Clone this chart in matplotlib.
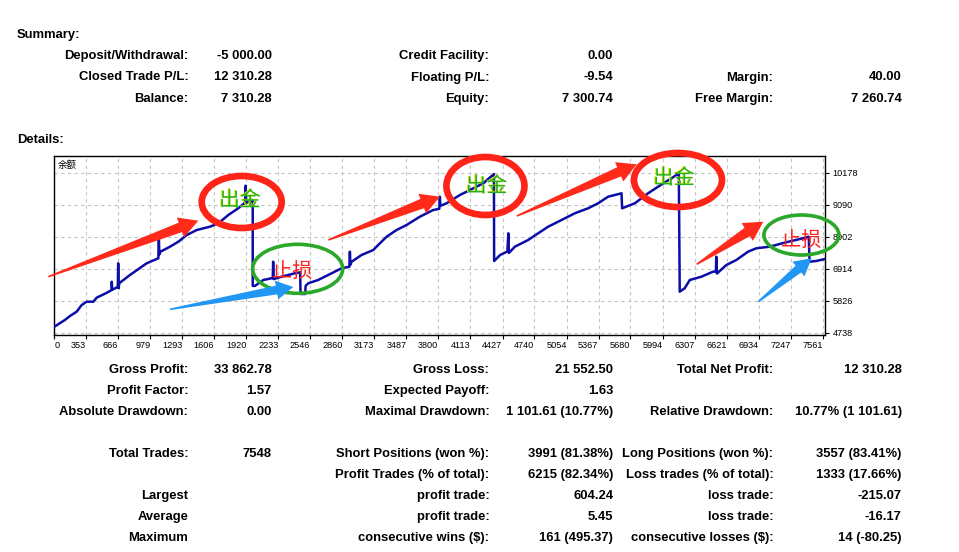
import numpy as np
import matplotlib
matplotlib.use('Agg')
import matplotlib.pyplot as plt
import matplotlib.patheffects as pe
from matplotlib.patches import Ellipse, Polygon
from matplotlib.transforms import IdentityTransform

W, H = 959, 552

# balance curve (trade number, balance)
trade_no = [40, 143, 193, 258, 308, 356, 421, 454, 556,
            601, 602, 606, 636, 661, 665, 670, 675, 780, 943,
            1058, 1063, 1068, 1078, 1172, 1254, 1336, 1434, 1563, 1645,
            1743, 1840, 1899, 1909, 1913, 1918, 1973, 1982, 1982, 2004,
            2085, 2128, 2178, 2182, 2187, 2264, 2395, 2446, 2450, 2495,
            2500, 2525, 2622, 2754, 2852, 2928, 2933, 2938, 2950, 3047,
            3162, 3210, 3293, 3390, 3488, 3618, 3749, 3808, 3814, 3818,
            3880, 4010, 4108, 4239, 4343, 4345, 4404, 4475, 4484, 4490,
            4548, 4678, 4776, 4874, 5005, 5135, 5265, 5363, 5461, 5592,
            5598, 5722, 5852, 5950, 6080, 6153, 6162, 6210, 6260, 6374,
            6487, 6516, 6520, 6526, 6618, 6716, 6830, 6911, 7041, 7204,
            7367, 7425, 7433, 7498, 7584]
balance = [4942, 5170, 5306, 5452, 5680, 5792, 5792, 5928, 6100,
           6190, 6472, 6200, 6250, 6300, 7097, 6250, 6420, 6700, 7097,
           7268, 7948, 7400, 7492, 7662, 7832, 8060, 8230, 8342, 8458,
           8740, 8968, 9138, 9200, 9736, 9150, 9250, 9250, 6330, 6330,
           6530, 6560, 6600, 7152, 6560, 6642, 6758, 6790, 6054, 6054,
           6330, 6418, 6530, 6758, 6928, 6980, 7492, 7050, 7152, 7380,
           7550, 7720, 8002, 8230, 8400, 8682, 8910, 8950, 9362, 9050,
           9138, 9420, 9590, 9818, 10134, 7176, 7380, 7500, 8118, 7450,
           7662, 7890, 8118, 8342, 8570, 8798, 8968, 9138, 9362, 9478,
           8968, 9138, 9478, 9702, 9988, 10150, 6132, 6248, 6530, 6642,
           6812, 6820, 7322, 6750, 7040, 7210, 7492, 7608, 7662, 7812,
           7948, 8002, 7152, 7176, 7244]

x_min, x_max = 39.5, 7584
y_min, y_max = 4660, 10746
xtick_vals = [0, 353, 666, 979, 1293, 1606, 1920, 2233, 2546, 2860, 3173,
              3487, 3800, 4113, 4427, 4740, 5054, 5367, 5680, 5994, 6307,
              6621, 6934, 7247, 7561]
ytick_vals = [4738, 5826, 6914, 8002, 9090, 10178]

summary_rows = [
    ["Deposit/Withdrawal:", "-5 000.00", "Credit Facility:", "0.00", "", ""],
    ["Closed Trade P/L:", "12 310.28", "Floating P/L:", "-9.54", "Margin:", "40.00"],
    ["Balance:", "7 310.28", "Equity:", "7 300.74", "Free Margin:", "7 260.74"],
]
detail_rows = [
    ["Gross Profit:", "33 862.78", "Gross Loss:", "21 552.50", "Total Net Profit:", "12 310.28"],
    ["Profit Factor:", "1.57", "Expected Payoff:", "1.63", "", ""],
    ["Absolute Drawdown:", "0.00", "Maximal Drawdown:", "1 101.61 (10.77%)",
     "Relative Drawdown:", "10.77% (1 101.61)"],
    None,
    ["Total Trades:", "7548", "Short Positions (won %):", "3991 (81.38%)",
     "Long Positions (won %):", "3557 (83.41%)"],
    ["", "", "Profit Trades (% of total):", "6215 (82.34%)",
     "Loss trades (% of total):", "1333 (17.66%)"],
    ["Largest", "", "profit trade:", "604.24", "loss trade:", "-215.07"],
    ["Average", "", "profit trade:", "5.45", "loss trade:", "-16.17"],
    ["Maximum", "", "consecutive wins ($):", "161 (495.37)",
     "consecutive losses ($):", "14 (-80.25)"],
]

# annotations (data coords)
red_rings = [(1874, 9182, 783, 1768), (4260, 9726, 764, 1972), (6145, 9930, 861, 1836)]
green_rings = [(2422, 6911, 881, 1666), (7353, 8060, 734, 1360)]
out_labels = [(1857, 9243), (4272, 9726), (6106, 9998)]
stop_labels = [(2371, 6802), (7348, 7856)]
red_arrows = [((-19, 6642), (1449, 8546)), ((2722, 7890), (3815, 9362)),
              ((4566, 8706), (5740, 10464)), ((6328, 7064), (6980, 8512))]
blue_arrows = [((1172, 5534), (2379, 6292)), ((6931, 5792), (7453, 7268))]

fig = plt.figure(figsize=(W / 100, H / 100), dpi=100)
fig.patch.set_facecolor('white')


def fx(px):
    return px / W


def fy(py):
    return 1 - py / H


txt = dict(fontfamily='Liberation Sans', fontweight='bold', fontsize=9.4, color='black')
lab_right = [188.3, 489.3, 773.3]
val_right = [271.7, 613.3, 901.7]

fig.text(fx(17), fy(38.3), "Summary:", ha='left', va='baseline', **txt)
fig.text(fx(17), fy(142.7), "Details:", ha='left', va='baseline', **txt)

for i, row in enumerate(summary_rows):
    yb = 59.3 + 21.2 * i
    for c in range(3):
        fig.text(fx(lab_right[c]), fy(yb), row[2 * c], ha='right', va='baseline', **txt)
        fig.text(fx(val_right[c]), fy(yb), row[2 * c + 1], ha='right', va='baseline', **txt)

for i, row in enumerate(detail_rows):
    if row is None:
        continue
    yb = 373.3 + 21 * i
    for c in range(3):
        fig.text(fx(lab_right[c]), fy(yb), row[2 * c], ha='right', va='baseline', **txt)
        fig.text(fx(val_right[c]), fy(yb), row[2 * c + 1], ha='right', va='baseline', **txt)

# balance chart
ax = fig.add_axes([fx(54.3), fy(335), (825 - 54.3) / W, (335 - 156) / H])
ax.plot(trade_no, balance, color='#0c0ca8', lw=1.8, zorder=3)
ax.set_xlim(x_min, x_max)
ax.set_ylim(y_min, y_max)

ax.set_xticks([max(v, x_min) for v in xtick_vals])
ax.set_xticklabels([str(v) for v in xtick_vals])
ax.set_yticks(ytick_vals)
ax.set_yticklabels([str(v) for v in ytick_vals])
ax.yaxis.tick_right()
ax.tick_params(axis='both', length=3, width=0.8, labelsize=6.6, colors='black')
ax.tick_params(axis='x', pad=1.5)
ax.tick_params(axis='y', pad=2.5)
for lbl in ax.get_xticklabels():
    lbl.set_fontfamily('Liberation Sans')
    lbl.set_ha('right')
ax.get_xticklabels()[0].set_ha('left')
for lbl in ax.get_yticklabels():
    lbl.set_fontfamily('Liberation Sans')
ax.grid(True, color='#c4c4c4', linestyle=(0, (3, 3)), linewidth=0.8)
for s in ax.spines.values():
    s.set_color('black')
    s.set_linewidth(1.0)
ax.text(0.005, 0.95, "余额", transform=ax.transAxes, fontsize=6.8, va='center', ha='left',
        family=['Noto Sans CJK SC', 'DejaVu Sans'])

for cx, cy, w, h in red_rings:
    ax.add_patch(Ellipse((cx, cy), w, h, fill=False, edgecolor='#ff2418', lw=4.8,
                         clip_on=False, zorder=5))
for cx, cy, w, h in green_rings:
    ax.add_patch(Ellipse((cx, cy), w, h, fill=False, edgecolor='#2aa82a', lw=2.6,
                         clip_on=False, zorder=5))

cjk = ['Noto Sans CJK SC', 'DejaVu Sans']
for x, y in out_labels:
    ax.text(x, y, "出金", color='#22b022', fontsize=15, ha='center', va='center',
            family=cjk, zorder=7, clip_on=False,
            path_effects=[pe.SimplePatchShadow(offset=(-0.7, 0.3), shadow_rgbFace='#e6e600', alpha=1),
                          pe.Normal()])
for x, y in stop_labels:
    ax.text(x, y, "止损", color='#ff2020', fontsize=14.5, ha='center', va='center',
            family=cjk, zorder=7, clip_on=False)


def big_arrow(p0, p1, color, head_len=19, head_w=10.5, shaft_w=5.0, tail_w=0.8):
    (x0, y0), (x1, y1) = ax.transData.transform([p0, p1])
    L = np.hypot(x1 - x0, y1 - y0)
    ux, uy = (x1 - x0) / L, (y1 - y0) / L
    nx, ny = -uy, ux
    bx, by = x1 - ux * head_len, y1 - uy * head_len
    pts = [(x0 + nx * tail_w, y0 + ny * tail_w),
           (bx + nx * shaft_w, by + ny * shaft_w),
           (bx + nx * head_w, by + ny * head_w),
           (x1, y1),
           (bx - nx * head_w, by - ny * head_w),
           (bx - nx * shaft_w, by - ny * shaft_w),
           (x0 - nx * tail_w, y0 - ny * tail_w)]
    fig.add_artist(Polygon(pts, closed=True, transform=IdentityTransform(),
                           facecolor=color, edgecolor='none', zorder=6))


for p0, p1 in red_arrows:
    big_arrow(p0, p1, '#ff2a1a')
for p0, p1 in blue_arrows:
    big_arrow(p0, p1, '#2196f3', head_len=17, head_w=9.5, shaft_w=4.4)

fig.savefig('out.png', dpi=100)
